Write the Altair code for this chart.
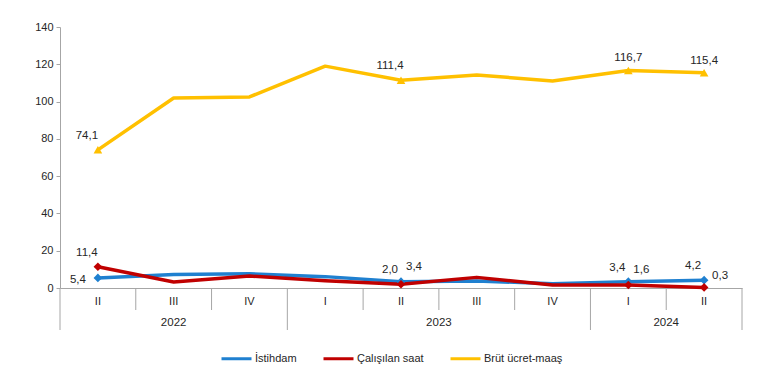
import altair as alt
import pandas as pd

quarters = ["II", "III", "IV", "I", "II", "III", "IV", "I", "II"]
years = ["2022", "2022", "2022", "2023", "2023", "2023", "2023", "2024", "2024"]
series_names = ["İstihdam", "Çalışılan saat", "Brüt ücret-maaş"]
istihdam = [5.4, 7.3, 7.6, 6.1, 3.4, 3.8, 2.3, 3.4, 4.2]
calisilan = [11.4, 3.2, 6.4, 3.9, 2.0, 5.7, 1.6, 1.6, 0.3]
brut = [74.1, 101.9, 102.5, 119.0, 111.4, 114.3, 111.0, 116.7, 115.4]
colors = ["#1f80d0", "#c00000", "#ffc000"]
shapes = ["diamond", "diamond", "triangle-up"]

# labelled points: (series, quarter index, label side)
labelled = [
    ("İstihdam", 0, "left"), ("İstihdam", 4, "upright"),
    ("İstihdam", 7, "upleft"), ("İstihdam", 8, "upleft"),
    ("Çalışılan saat", 0, "upleft"), ("Çalışılan saat", 4, "upleft"),
    ("Çalışılan saat", 7, "upright"), ("Çalışılan saat", 8, "right"),
    ("Brüt ücret-maaş", 0, "upleft"), ("Brüt ücret-maaş", 4, "upleft"),
    ("Brüt ücret-maaş", 7, "up"), ("Brüt ücret-maaş", 8, "up"),
]

W, H = 682, 261
FONT = "Liberation Sans"
TXT = "#262626"
GRAY = "#a6a6a6"

rows = []
for name, vals in zip(series_names, [istihdam, calisilan, brut]):
    for i, v in enumerate(vals):
        rows.append({"series": name, "x": i + 0.5, "value": v,
                     "label": f"{v:.1f}".replace(".", ",")})
df = pd.DataFrame(rows)
lab_map = {(s, i): side for s, i, side in labelled}
df["side"] = [lab_map.get((s, int(x - 0.5)), "") for s, x in zip(df["series"], df["x"])]
lab = df[df["side"] != ""].copy()

xs = alt.Scale(domain=[0, len(quarters)], nice=False, zero=False)
ys = alt.Scale(domain=[0, 140], nice=False)
col = alt.Scale(domain=series_names, range=colors)

xaxis = alt.Axis(labels=False, ticks=False, grid=False, title=None,
                 domainColor=GRAY, domainWidth=1)
yaxis = alt.Axis(values=list(range(0, 141, 20)), grid=False, title=None,
                 domainColor=GRAY, tickColor=GRAY, tickSize=4,
                 labelFont=FONT, labelFontSize=11, labelColor=TXT,
                 labelPadding=3, labelOverlap=False)


def X():
    return alt.X("x:Q", scale=xs, axis=xaxis)


def Y():
    return alt.Y("value:Q", scale=ys, axis=yaxis)


lines = alt.Chart(df).mark_line(strokeWidth=3.5, strokeJoin="round").encode(
    x=X(), y=Y(),
    color=alt.Color("series:N", scale=col, sort=series_names,
                    legend=alt.Legend(title=None, orient="none", direction="horizontal",
                                      legendX=160, legendY=315, symbolType="stroke",
                                      symbolStrokeWidth=3, symbolSize=900,
                                      labelFont=FONT, labelFontSize=11, labelColor=TXT,
                                      columnPadding=20, labelOffset=2)),
)

points = []
for name, c, s in zip(series_names, colors, shapes):
    points.append(
        alt.Chart(lab).transform_filter(alt.datum.series == name)
        .mark_point(filled=True, size=75, opacity=1, shape=s, color=c)
        .encode(x=X(), y=Y())
    )

offsets = {"up": (0, -12), "upleft": (-11, -14), "upright": (13, -15),
           "left": (-20, 2), "right": (16, -11)}
texts = []
for side, (dx, dy) in offsets.items():
    texts.append(
        alt.Chart(lab).transform_filter(alt.datum.side == side)
        .mark_text(dx=dx, dy=dy, font=FONT, fontSize=11.5, color=TXT)
        .encode(x=X(), y=Y(), text="label:N")
    )

qdf = pd.DataFrame({"x": [i + 0.5 for i in range(len(quarters))], "q": quarters})
qlabels = alt.Chart(qdf).mark_text(font=FONT, fontSize=11, color=TXT, baseline="middle").encode(
    x=X(), y=alt.value(H + 14), text="q:N")

ydf = pd.DataFrame({"year": years, "i": range(len(years))})
yg = ydf.groupby("year", sort=False)["i"].agg(["min", "max"]).reset_index()
yg["x"] = (yg["min"] + yg["max"] + 1) / 2
ylabels = alt.Chart(yg).mark_text(font=FONT, fontSize=11.5, color=TXT, baseline="middle").encode(
    x=X(), y=alt.value(H + 35), text="year:N")

bounds = sorted(set([0] + list(yg["min"]) + [len(quarters)]))
ddf = pd.DataFrame({"x": list(range(len(quarters) + 1))})
ddf["long"] = ddf["x"].isin(bounds)
short_rules = alt.Chart(ddf[~ddf["long"]]).mark_rule(color=GRAY, strokeWidth=1).encode(
    x=X(), y=alt.value(H), y2=alt.value(H + 22))
long_rules = alt.Chart(ddf[ddf["long"]]).mark_rule(color=GRAY, strokeWidth=1).encode(
    x=X(), y=alt.value(H), y2=alt.value(H + 42))

chart = alt.layer(lines, short_rules, long_rules, *points, *texts, qlabels, ylabels).properties(
    width=W, height=H,
    padding={"left": 52, "top": 19, "right": 32, "bottom": 93},
    autosize="none",
).configure_view(stroke=None)

chart.save("out.html", embed_options={"renderer": "svg", "actions": False})
